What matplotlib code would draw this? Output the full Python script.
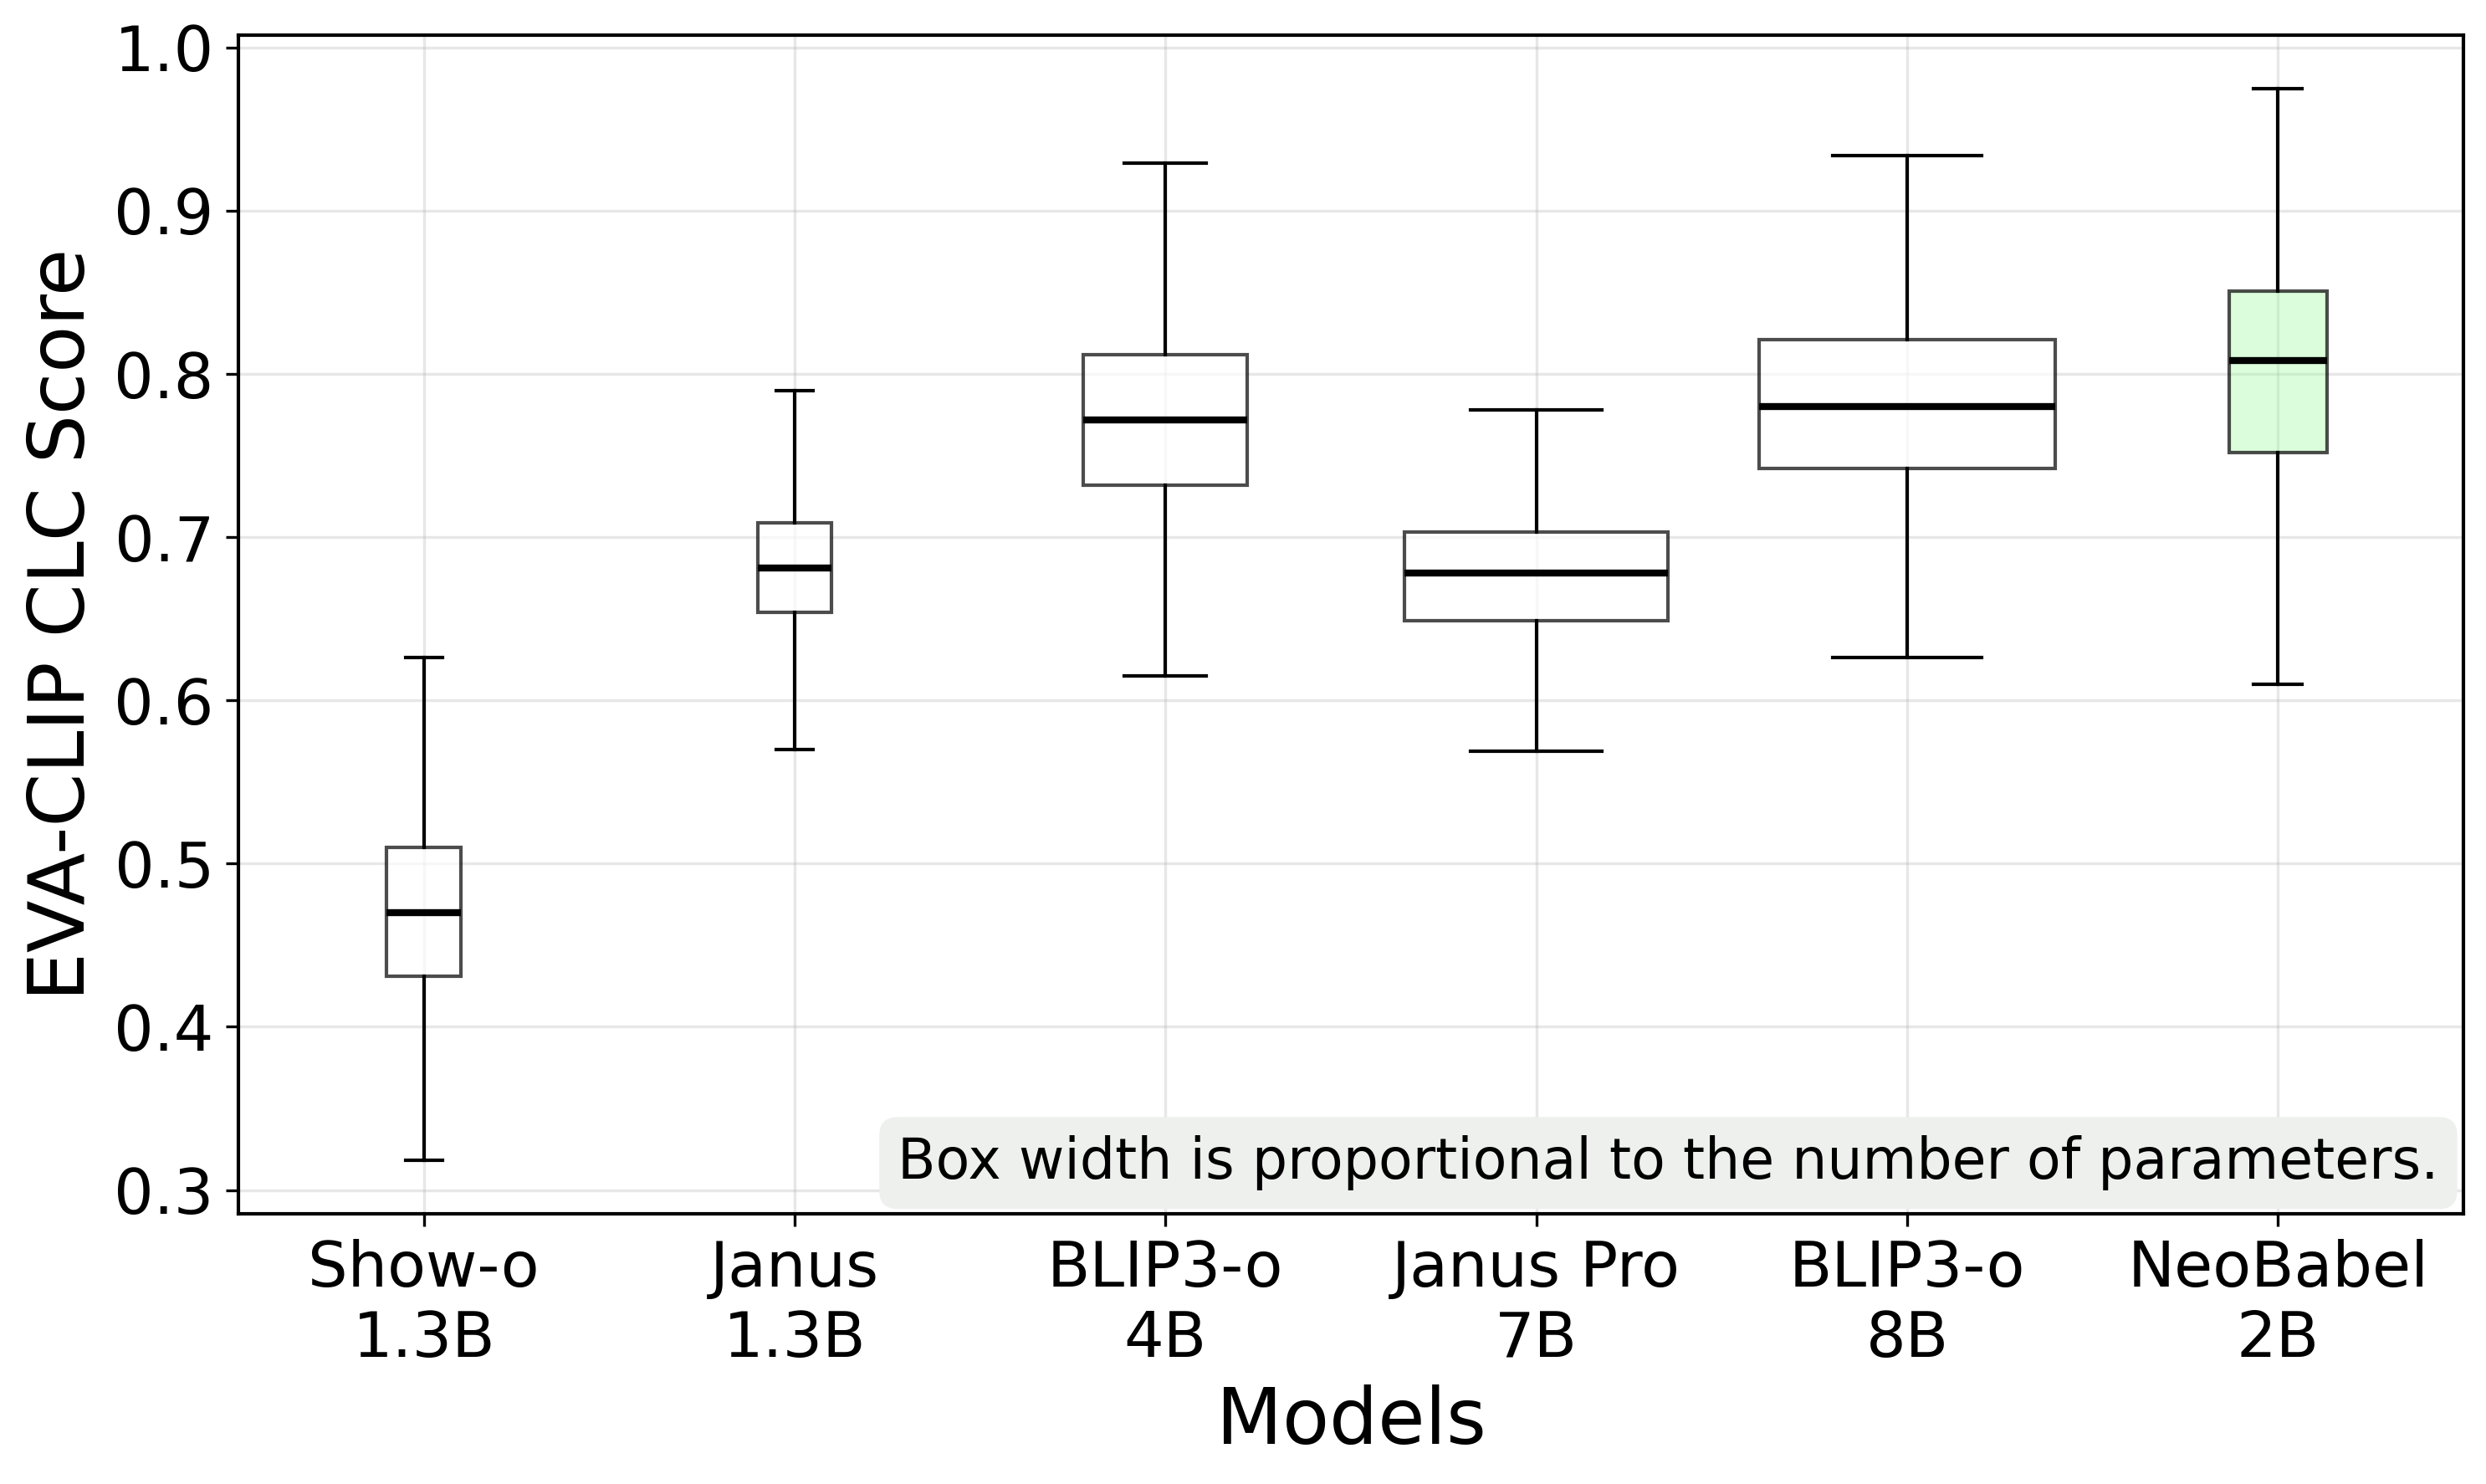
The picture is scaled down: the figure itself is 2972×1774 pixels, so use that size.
import matplotlib
matplotlib.use("Agg")
import matplotlib.pyplot as plt
import numpy as np

# ---- data ----
models = ["Show-o", "Janus", "BLIP3-o", "Janus Pro", "BLIP3-o", "NeoBabel"]
params_b = [1.3, 1.3, 4, 7, 8, 2]
param_labels = ["1.3B", "1.3B", "4B", "7B", "8B", "2B"]
whisker_low = [0.318, 0.570, 0.615, 0.569, 0.626, 0.610]
q1_vals = [0.431, 0.654, 0.732, 0.649, 0.742, 0.752]
medians = [0.470, 0.681, 0.772, 0.678, 0.780, 0.808]
q3_vals = [0.510, 0.709, 0.812, 0.703, 0.821, 0.851]
whisker_high = [0.626, 0.790, 0.929, 0.778, 0.934, 0.975]
highlight = "NeoBabel"

plt.rcParams['font.family'] = ['DejaVu Sans']

fig = plt.figure(figsize=(2972 / 300, 1774 / 300), dpi=300)
ax = fig.add_axes([0.0959, 0.1818, 0.8950, 0.7948])

pmin, pmax = min(params_b), max(params_b)
widths = [0.2 + 0.6 * (p - pmin) / (pmax - pmin) for p in params_b]

stats = []
for i in range(len(models)):
    stats.append(dict(med=medians[i], q1=q1_vals[i], q3=q3_vals[i],
                      whislo=whisker_low[i], whishi=whisker_high[i],
                      fliers=[], label=f"{models[i]}\n{param_labels[i]}"))

positions = list(range(len(models)))
bp = ax.bxp(stats, positions=positions, widths=widths, patch_artist=True,
            showfliers=False,
            boxprops=dict(linewidth=1.0),
            medianprops=dict(color='black', linewidth=2.0),
            whiskerprops=dict(color='black', linewidth=1.0),
            capprops=dict(color='black', linewidth=1.0))

for name, box in zip(models, bp['boxes']):
    if name == highlight:
        box.set_facecolor((0.596, 0.984, 0.596, 0.35))
    else:
        box.set_facecolor((1, 1, 1, 0.7))
    box.set_edgecolor((0, 0, 0, 0.7))

ax.set_xlim(-0.5, 5.5)
ax.set_xticks(positions)
ax.set_xticklabels([f"{m}\n{p}" for m, p in zip(models, param_labels)])
ax.set_yticks([0.3, 0.4, 0.5, 0.6, 0.7, 0.8, 0.9, 1.0])
ax.tick_params(axis='both', labelsize=18)
ax.grid(True, alpha=0.3)
ax.set_axisbelow(True)
for s in ax.spines.values():
    s.set_linewidth(1.0)

ax.set_xlabel("Models", fontsize=22)
ax.set_ylabel("EVA-CLIP CLC Score", fontsize=22)

ax.text(0.989, 0.020, "Box width is proportional to the number of parameters.",
        transform=ax.transAxes, ha='right', va='bottom', fontsize=16,
        bbox=dict(boxstyle='round,pad=0.33', facecolor='#eef0ee', edgecolor='none'))

fig.savefig("out.png", dpi=300)
